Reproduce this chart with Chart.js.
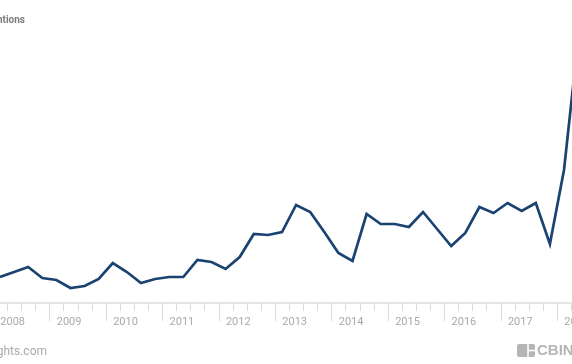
<!DOCTYPE html>
<html>
<head>
<meta charset="utf-8">
<script src="https://cdn.jsdelivr.net/npm/chart.js@4"></script>
<style>
  html, body { margin: 0; padding: 0; background: #fff; }
  #wrap { position: relative; width: 572px; height: 364px; }
</style>
</head>
<body>
<div id="wrap"><canvas id="chart" width="572" height="364"></canvas></div>
<script>
/* quarterly mentions, 2008 Q1 .. 2018 Q2 */
const years = ["2008", "2009", "2010", "2011", "2012", "2013", "2014", "2015", "2016", "2017", "2018"];
const quarters = [];
years.forEach(y => ["Q1", "Q2", "Q3", "Q4"].forEach(q => quarters.push(y + " " + q)));
const mentions = [
  27, 32, 37, 26,
  24, 16, 18, 25,
  41, 32, 21, 25,
  27, 27, 44, 42,
  35, 47, 70, 69,
  72, 99, 92, 72,
  51, 43, 90, 80,
  80, 77, 92, 75,
  58, 71, 97, 91,
  101, 93, 101, 60,
  134, 264
];

const points = mentions.map((v, i) => ({ x: i, y: v }));

/* custom x axis: baseline, quarter ticks, year labels */
const axisPlugin = {
  id: "axisPlugin",
  afterDraw(chart) {
    const { ctx, scales: { x } } = chart;
    const base = 303;
    ctx.save();
    ctx.strokeStyle = "#dcdcdc";
    ctx.lineWidth = 1.5;
    ctx.beginPath();
    ctx.moveTo(0, base);
    ctx.lineTo(572, base);
    ctx.stroke();

    ctx.lineWidth = 1;
    for (let i = -1; i < quarters.length; i++) {
      const px = Math.round(x.getPixelForValue(i + 0.5)) + 0.5;
      const long = (i + 1) % 4 === 0;
      ctx.beginPath();
      ctx.moveTo(px, base);
      ctx.lineTo(px, long ? base + 18 : base + 8);
      ctx.stroke();
    }

    ctx.fillStyle = "#a9a9a9";
    ctx.font = "11px Roboto, sans-serif";
    ctx.textAlign = "center";
    ctx.textBaseline = "middle";
    years.forEach((y, k) => {
      ctx.fillText(y, x.getPixelForValue(k * 4 + 0.9), 322);
    });

    /* title fragment */
    ctx.fillStyle = "#7a7a7a";
    ctx.font = "bold 10px Roboto, sans-serif";
    ctx.textAlign = "right";
    ctx.fillText("Mentions", 25, 20);

    /* source footer */
    ctx.fillStyle = "#aaaaaa";
    ctx.font = "12px Roboto, sans-serif";
    ctx.textAlign = "right";
    ctx.fillText("cbinsights.com", 47, 352);

    /* logo */
    ctx.fillStyle = "#b5b5b5";
    ctx.beginPath();
    ctx.roundRect(517, 344, 18, 13, 2);
    ctx.fill();
    ctx.strokeStyle = "#fff";
    ctx.lineWidth = 1.5;
    ctx.beginPath();
    ctx.moveTo(528, 344); ctx.lineTo(528, 357);
    ctx.moveTo(528, 350.5); ctx.lineTo(535, 350.5);
    ctx.stroke();
    ctx.fillStyle = "#b5b5b5";
    ctx.font = "bold 15px 'Liberation Sans', sans-serif";
    ctx.textAlign = "left";
    ctx.fillText("CBINSIGHTS", 537, 351);
    ctx.restore();
  }
};

new Chart(document.getElementById("chart"), {
  type: "line",
  data: {
    labels: quarters,
    datasets: [{
      data: points,
      borderColor: "#1a4371",
      borderWidth: 2.7,
      pointRadius: 0,
      tension: 0,
      fill: false
    }]
  },
  options: {
    responsive: false,
    animation: false,
    layout: { padding: { top: 4, bottom: 60, left: 0, right: 0 } },
    plugins: { legend: { display: false }, tooltip: { enabled: false } },
    scales: {
      x: { type: "linear", display: false, min: 0, max: 572 / 14.1 },
      y: { display: false, min: 0, max: 300 }
    }
  },
  plugins: [axisPlugin]
});
</script>
</body>
</html>
